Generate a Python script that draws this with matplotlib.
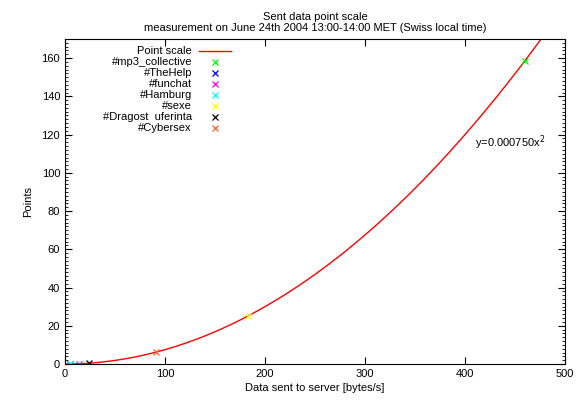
import numpy as np
import matplotlib.pyplot as plt
from matplotlib.ticker import MultipleLocator

plt.rcParams['font.family'] = ['Liberation Sans', 'DejaVu Sans']
plt.rcParams['font.size'] = 8

# point scale y = a * x^2
coef = 0.000750
channels = ['#mp3_collective', '#TheHelp', '#funchat', '#Hamburg', '#sexe', '#Dragost_uferinta', '#Cybersex']
legend_names = ['#mp3_collective', '#TheHelp', '#funchat', '#Hamburg', '#sexe', '#Dragost  uferinta', '#Cybersex']
rates = [460, 5, 14, 5, 183, 24, 91]
colors = ['#00ff00', '#0000ff', '#ff00ff', '#00ffff', '#ffff00', '#000000', '#ff6030']

fig = plt.figure(figsize=(5.8, 4.03), dpi=100)
ax = fig.add_axes([65 / 580, 39 / 403, 500 / 580, 325 / 403])

xs = np.linspace(0, 500, 400)
ax.plot(xs, coef * xs ** 2, color='red', lw=1)
for r, c in zip(rates, colors):
    ax.plot([r], [coef * r ** 2], 'x', color=c, ms=4.5, mew=0.9)

ax.set_xlim(0, 500)
ax.set_ylim(0, 170)
ax.xaxis.set_major_locator(MultipleLocator(100))
ax.yaxis.set_major_locator(MultipleLocator(20))
ax.yaxis.set_minor_locator(MultipleLocator(2))
ax.tick_params(which='both', direction='in', top=True, right=True)
ax.tick_params(which='major', length=5)
ax.tick_params(which='minor', length=2.5)
ax.set_xlabel('Data sent to server [bytes/s]', labelpad=3)
ax.set_ylabel('Points', labelpad=6)
ax.set_title('Sent data point scale\nmeasurement on June 24th 2004 13:00-14:00 MET (Swiss local time)',
             fontsize=8, pad=6, linespacing=1.1)

ax.text(410, 116, 'y=0.000750x$^2$', ha='left', va='center')

# gnuplot-style key
tr = ax.transAxes
def ax_x(px):
    return (px - 65) / 500
def ax_y(py):
    return (364 - py) / 325
rows = [50.5 + 11.1 * i for i in range(8)]
ax.text(ax_x(192), ax_y(rows[0]), 'Point scale', ha='right', va='center', transform=tr)
ax.plot([ax_x(199), ax_x(231)], [ax_y(rows[0])] * 2, color='red', lw=1, transform=tr, clip_on=False)
for i, (name, c) in enumerate(zip(legend_names, colors)):
    y = ax_y(rows[i + 1])
    ax.text(ax_x(192), y, name, ha='right', va='center', transform=tr)
    ax.plot([ax_x(215)], [y], 'x', color=c, ms=4.5, mew=0.9, transform=tr, clip_on=False)

fig.savefig('out.png', dpi=100)
